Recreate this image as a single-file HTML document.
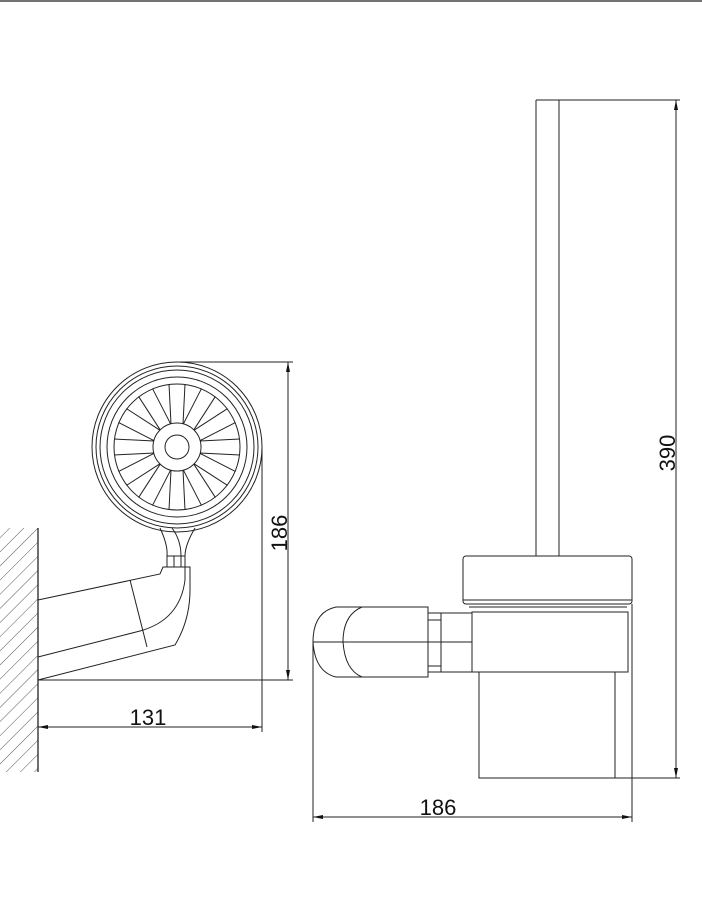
<!DOCTYPE html>
<html><head><style>
html,body{margin:0;padding:0;background:#fff}
svg{display:block}
text{font-family:"Liberation Sans",sans-serif;fill:#111}
</style></head><body>
<svg width="702" height="900" viewBox="0 0 702 900" xmlns="http://www.w3.org/2000/svg">
<defs>
<marker id="a" markerWidth="10" markerHeight="6" refX="10" refY="3" orient="auto-start-reverse" markerUnits="userSpaceOnUse"><path d="M0,1 L10,3 L0,5 z" fill="#111"/></marker>
<pattern id="h" width="10" height="10" patternUnits="userSpaceOnUse" patternTransform="rotate(45)"><line x1="0" y1="0" x2="0" y2="10" stroke="#555" stroke-width="1"/></pattern>
</defs>
<line x1="0" y1="1" x2="702" y2="1" stroke="#444" stroke-width="1.5"/>
<g fill="none" stroke="#222" stroke-width="1">
<rect x="0" y="528" width="38" height="244" fill="url(#h)" stroke="none"/>
<line x1="38" y1="528" x2="38" y2="772" stroke-width="1.3"/>
<circle cx="177" cy="447" r="85"/>
<circle cx="177" cy="447" r="81"/>
<circle cx="177" cy="447" r="77"/>
<circle cx="177" cy="447" r="70"/>
<circle cx="177" cy="447" r="63"/>
<circle cx="177" cy="447" r="24"/>
<circle cx="177" cy="447" r="12"/>
<g id="sp">
<line x1="171" y1="424" x2="169" y2="384"/><line x1="183" y1="424" x2="185" y2="384"/>
</g>
<use href="#sp" transform="rotate(30 177 447)"/>
<use href="#sp" transform="rotate(60 177 447)"/>
<use href="#sp" transform="rotate(90 177 447)"/>
<use href="#sp" transform="rotate(120 177 447)"/>
<use href="#sp" transform="rotate(150 177 447)"/>
<use href="#sp" transform="rotate(180 177 447)"/>
<use href="#sp" transform="rotate(210 177 447)"/>
<use href="#sp" transform="rotate(240 177 447)"/>
<use href="#sp" transform="rotate(270 177 447)"/>
<use href="#sp" transform="rotate(300 177 447)"/>
<use href="#sp" transform="rotate(330 177 447)"/>
<path d="M160 528 Q168 545 167 556 L167 567 M195 528 Q185 545 185 556 L185 567"/>
<path d="M172 528 Q181 540 181 556 L181 567"/>
<line x1="167" y1="556" x2="185" y2="556"/>
<line x1="174" y1="556" x2="174" y2="567"/>
<path d="M38 600 L160 574 L163 567 L190 567 L190 590 Q190 620 175 645 L38 680"/>
<path d="M38 657 L140 631 Q180 620 185 580 L185 567"/>
<line x1="130" y1="580" x2="147" y2="647"/>
<line x1="180" y1="362" x2="293" y2="362"/>
<line x1="38" y1="680" x2="293" y2="680"/>
<line x1="288" y1="362" x2="288" y2="680" marker-start="url(#a)" marker-end="url(#a)"/>
<line x1="262" y1="447" x2="262" y2="732"/>
<line x1="38" y1="727" x2="262" y2="727" marker-start="url(#a)" marker-end="url(#a)"/>
<line x1="536" y1="100" x2="536" y2="556"/>
<line x1="559" y1="100" x2="559" y2="556"/>
<line x1="536" y1="100" x2="680" y2="100"/>
<rect x="463" y="556" width="169" height="48" rx="3"/>
<line x1="463" y1="600" x2="632" y2="600"/>
<line x1="469" y1="607" x2="627" y2="607"/>
<rect x="472" y="612" width="156" height="60"/>
<path d="M479 672 L479 778 L615 778 L615 672"/>
<path d="M428 607 L336 607 Q313 612 313 642 Q315 672 336 677 L428 677 Z"/>
<path d="M362 607 Q343 615 343 642 Q345 670 362 677"/>
<line x1="313" y1="642" x2="472" y2="642"/>
<rect x="428" y="613" width="13" height="59"/>
<line x1="428" y1="620" x2="441" y2="620"/><line x1="428" y1="666" x2="441" y2="666"/>
<line x1="441" y1="613" x2="472" y2="613"/><line x1="441" y1="672" x2="472" y2="672"/>
<line x1="615" y1="778" x2="680" y2="778"/>
<line x1="676" y1="100" x2="676" y2="778" marker-start="url(#a)" marker-end="url(#a)"/>
<line x1="313" y1="642" x2="313" y2="822"/>
<line x1="632" y1="604" x2="632" y2="822"/>
<line x1="313" y1="817" x2="632" y2="817" marker-start="url(#a)" marker-end="url(#a)"/>
</g>
<text x="148" y="725" font-size="22" text-anchor="middle">131</text>
<text x="438" y="815" font-size="22" text-anchor="middle">186</text>
<text transform="translate(287 533) rotate(-90)" font-size="22" text-anchor="middle">186</text>
<text transform="translate(675 453) rotate(-90)" font-size="22" text-anchor="middle">390</text>
</svg>
</body></html>
